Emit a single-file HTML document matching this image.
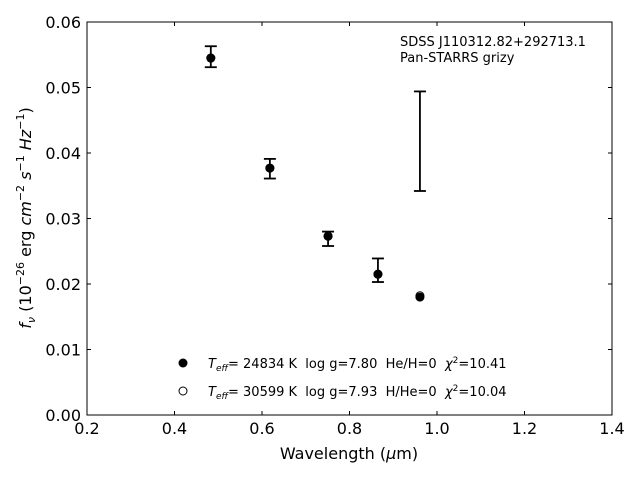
<!DOCTYPE html>
<html><head><meta charset="utf-8"><style>
body{margin:0;background:#fff}
svg{font-family:"DejaVu Sans","Liberation Sans",sans-serif}
text{white-space:pre}
</style></head><body>
<svg id="chart" width="640" height="480" viewBox="0 0 640 480">
<rect x="87" y="22" width="525" height="393" fill="none" stroke="#000" stroke-width="1"/>
<g id="axes"></g>
<g id="marks"></g>
<text x="400" y="46" font-size="13">SDSS J110312.82+292713.1</text>
<text x="400" y="62" font-size="13">Pan-STARRS grizy</text>
<text x="349" y="459" font-size="16" text-anchor="middle">Wavelength (<tspan font-style="italic">μ</tspan>m)</text>
<text transform="translate(31,218) rotate(-90)" font-size="16" text-anchor="middle"><tspan font-style="italic">f</tspan><tspan font-style="italic" font-size="11" dy="4">ν</tspan><tspan dy="-4"> (10</tspan><tspan font-size="11" dy="-7">−26</tspan><tspan dy="7"> erg </tspan><tspan font-style="italic">cm</tspan><tspan font-size="11" dy="-7">−2</tspan><tspan dy="7"> </tspan><tspan font-style="italic">s</tspan><tspan font-size="11" dy="-7">−1</tspan><tspan dy="7"> </tspan><tspan font-style="italic">Hz</tspan><tspan font-size="11" dy="-7">−1</tspan><tspan dy="7">)</tspan></text>
<g>
<circle cx="183" cy="363" r="4.5" fill="#000"/>
<text x="208" y="368" font-size="13" xml:space="preserve"><tspan font-style="italic">T</tspan><tspan font-style="italic" font-size="9" dy="3">eff</tspan><tspan dy="-3">= 24834 K  log g=7.80  He/H=0  </tspan><tspan font-style="italic">χ</tspan><tspan font-size="9" dy="-5">2</tspan><tspan dy="5">=10.41</tspan></text>
<circle cx="183" cy="391" r="4" fill="#fff" stroke="#000" stroke-width="1"/>
<text x="208" y="396" font-size="13" xml:space="preserve"><tspan font-style="italic">T</tspan><tspan font-style="italic" font-size="9" dy="3">eff</tspan><tspan dy="-3">= 30599 K  log g=7.93  H/He=0  </tspan><tspan font-style="italic">χ</tspan><tspan font-size="9" dy="-5">2</tspan><tspan dy="5">=10.04</tspan></text>
</g>
</svg>
<script>
const wavelengths = [0.483, 0.618, 0.751, 0.865, 0.961];
const obsFlux = [0.0547, 0.0376, 0.0269, 0.0221, 0.0418];
const obsErr = [0.0016, 0.0015, 0.0011, 0.0018, 0.0076];
const modelHe = [0.0545, 0.0377, 0.0273, 0.0215, 0.0180];
const modelH = [0.0545, 0.0377, 0.0273, 0.0215, 0.0182];
const xTicks = [0.2, 0.4, 0.6, 0.8, 1.0, 1.2, 1.4];
const yTicks = [0.00, 0.01, 0.02, 0.03, 0.04, 0.05, 0.06];
const NS = 'http://www.w3.org/2000/svg';
const X = v => 87 + (v - 0.2) / 1.2 * 525;
const Y = v => 415 - v / 0.06 * 393;
function mk(t, a, p) { const e = document.createElementNS(NS, t); for (const k in a) e.setAttribute(k, a[k]); p.appendChild(e); return e; }
const axes = document.getElementById('axes'), marks = document.getElementById('marks');
xTicks.forEach(v => {
  const x = X(v);
  const t = mk('line', {x1: x, x2: x, y1: 415, y2: 411, stroke: '#000'}, axes);
  
  
  const t2 = mk('line', {x1: x, x2: x, y1: 22, y2: 26, stroke: '#000'}, axes);
  
  
  const l = mk('text', {x: x, y: 434, 'font-size': 16, 'text-anchor': 'middle'}, axes);
  l.textContent = v.toFixed(1);
  
  
});
yTicks.forEach(v => {
  const y = Y(v);
  const t = mk('line', {x1: 87, x2: 91, y1: y, y2: y, stroke: '#000'}, axes);
  
  
  const t2 = mk('line', {x1: 608, x2: 612, y1: y, y2: y, stroke: '#000'}, axes);
  
  
  const l = mk('text', {x: 81, y: y + 6, 'font-size': 16, 'text-anchor': 'end'}, axes);
  l.textContent = v.toFixed(2);
  
  
});
wavelengths.forEach((w, i) => {
  const x = X(w), y1 = Y(obsFlux[i] + obsErr[i]), y2 = Y(obsFlux[i] - obsErr[i]);
  const g = mk('g', {stroke: '#000', 'stroke-width': 1.8}, marks);
  
  
  mk('line', {x1: x, x2: x, y1: y1, y2: y2}, g);
  mk('line', {x1: x - 6, x2: x + 6, y1: y1, y2: y1}, g);
  mk('line', {x1: x - 6, x2: x + 6, y1: y2, y2: y2}, g);
});
wavelengths.forEach((w, i) => {
  const c = mk('circle', {cx: X(w), cy: Y(modelH[i]), r: 4, fill: '#fff', stroke: '#000', 'stroke-width': 1}, marks);
  
  
});
wavelengths.forEach((w, i) => {
  const c = mk('circle', {cx: X(w), cy: Y(modelHe[i]), r: 4.5, fill: '#000'}, marks);
  
  
});
</script>
</body></html>
